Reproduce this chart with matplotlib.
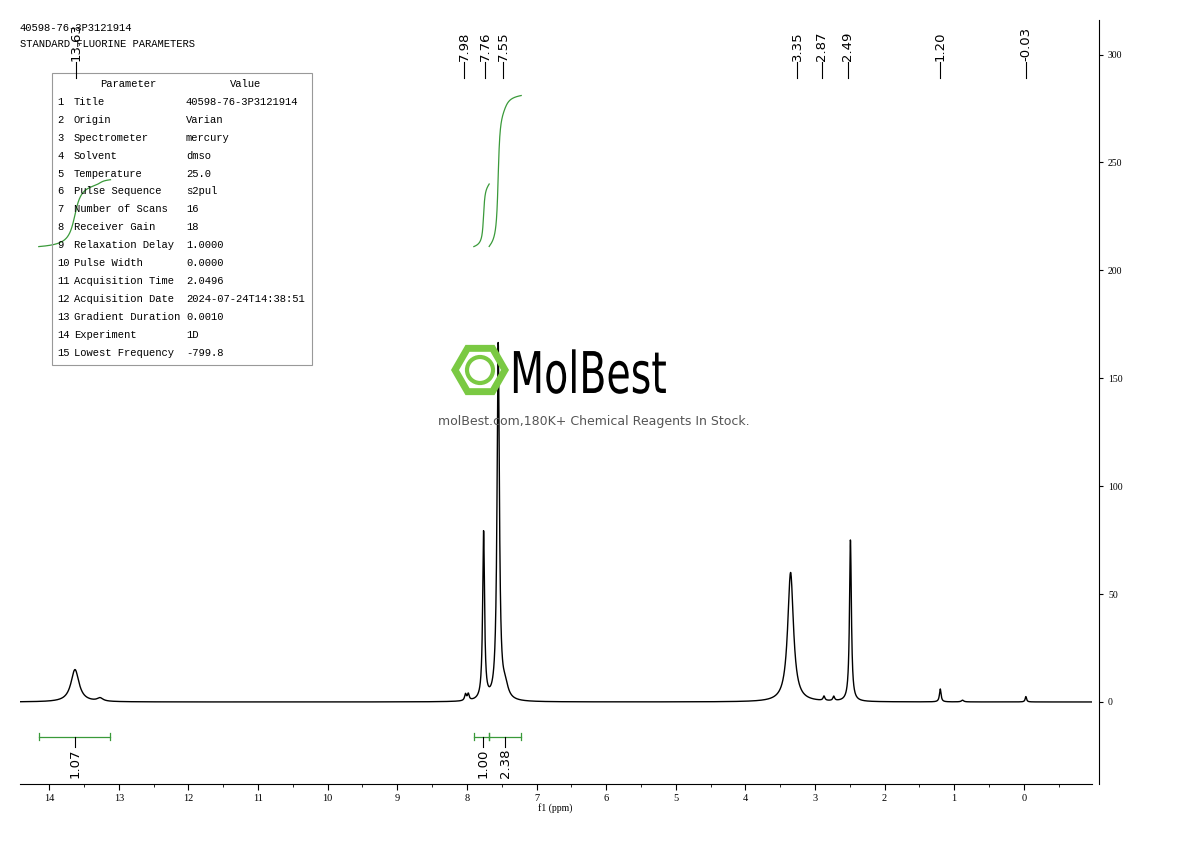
import numpy as np
import matplotlib.pyplot as plt
from matplotlib.patches import Rectangle, RegularPolygon, Circle, PathPatch
from matplotlib.textpath import TextPath
from matplotlib.font_manager import FontProperties
from matplotlib.transforms import Affine2D

W, H = 1190, 841

# peaks: position (ppm), height, half-width (ppm)
peak_pos = [13.63, 13.27, 8.02, 7.98, 7.76, 7.55, 7.45, 3.35, 2.87, 2.73, 2.49, 1.20, 0.88, -0.03]
peak_h = [15.0, 1.5, 3.0, 3.0, 78.0, 165.0, 6.0, 60.0, 2.0, 2.0, 75.0, 6.0, 0.8, 2.5]
peak_w = [0.07, 0.05, 0.015, 0.015, 0.016, 0.02, 0.05, 0.05, 0.015, 0.015, 0.016, 0.014, 0.02, 0.012]

shift_labels = ["13.63", "7.98", "7.76", "7.55", "3.35", "2.87", "2.49", "1.20", "-0.03"]
shift_px = [76, 464, 485, 503, 797, 822, 848, 940, 1026]

integ_ranges = [(14.15, 13.12), (7.90, 7.68), (7.68, 7.22)]
integ_values = ["1.07", "1.00", "2.38"]
integ_centres = [13.63, 7.77, 7.45]

params = [
    ("Title", "40598-76-3P3121914"), ("Origin", "Varian"), ("Spectrometer", "mercury"),
    ("Solvent", "dmso"), ("Temperature", "25.0"), ("Pulse Sequence", "s2pul"),
    ("Number of Scans", "16"), ("Receiver Gain", "18"), ("Relaxation Delay", "1.0000"),
    ("Pulse Width", "0.0000"), ("Acquisition Time", "2.0496"),
    ("Acquisition Date", "2024-07-24T14:38:51"), ("Gradient Duration", "0.0010"),
    ("Experiment", "1D"), ("Lowest Frequency", "-799.8"),
]

MONO = "Liberation Mono"

x = np.linspace(14.42, -0.98, 6000)
y = np.zeros_like(x)
for p, h, w in zip(peak_pos, peak_h, peak_w):
    y += h / (1 + ((x - p) / w) ** 2)

fig = plt.figure(figsize=(W / 100, H / 100), dpi=100)
ax = fig.add_axes([20 / W, 1 - 784 / H, 1072 / W, 764 / H])
ax.plot(x, y, color="black", lw=1.0)
ax.set_xlim(14.42, -0.98)
ax.set_ylim(-38, 316)

# integral curves
for (a, b), base, top in zip(integ_ranges, [211, 211, 211], [242, 240, 281]):
    xi = np.linspace(a, b, 300)
    yi = np.interp(xi[::-1], x[::-1], y[::-1])[::-1]
    c = np.cumsum(yi)
    c = base + (top - base) * c / c[-1]
    ax.plot(xi, c, color="#3a9a3a", lw=0.9)
for (a, b), v, cx in zip(integ_ranges, integ_values, integ_centres):
    ax.plot([a, b], [-16, -16], color="#3a9a3a", lw=0.9)
    for e in (a, b):
        ax.plot([e, e], [-14.5, -17.5], color="#3a9a3a", lw=0.9)
    ax.plot([cx, cx], [-16, -21], color="black", lw=0.8)
    ax.text(cx, -21.5, v, rotation=90, ha="center", va="top", fontsize=9.5)

for s in ("left", "top"):
    ax.spines[s].set_visible(False)
ax.spines["right"].set_position(("outward", 5))
ax.spines["right"].set_bounds(-38, 316)
ax.yaxis.tick_right()
ax.set_yticks(range(0, 301, 50))
ax.tick_params(axis="y", labelsize=7, length=3)
ax.set_xticks(range(0, 15))
ax.set_xticks(np.arange(-0.5, 14.5, 0.5), minor=True)
ax.tick_params(axis="x", labelsize=7.5, length=4)
ax.tick_params(axis="x", which="minor", length=2)
for lab in ax.get_xticklabels() + ax.get_yticklabels():
    lab.set_family("Liberation Serif")
fig.text(555 / W, 1 - 811 / H, "f1 (ppm)", ha="center", fontsize=7, family="Liberation Serif")

# chemical shift labels
for lab, px in zip(shift_labels, shift_px):
    fig.add_artist(plt.Line2D([px / W, px / W], [1 - 78 / H, 1 - 62 / H], color="black", lw=0.8))
    fig.text(px / W, 1 - 61 / H, lab, rotation=90, ha="center", va="bottom", fontsize=9.5)

# header and parameter table
fig.text(20 / W, 1 - 31 / H, "40598-76-3P3121914", fontsize=7.6, family=MONO, va="baseline")
fig.text(20 / W, 1 - 47 / H, "STANDARD FLUORINE PARAMETERS", fontsize=7.6, family=MONO, va="baseline")
fig.add_artist(Rectangle((52 / W, 1 - 365 / H), 260 / W, 292 / H, transform=fig.transFigure,
                         fill=False, ec="#999999", lw=0.8))
fig.text(128 / W, 1 - 84 / H, "Parameter", ha="center", va="center", fontsize=7.6, family=MONO)
fig.text(246 / W, 1 - 84 / H, "Value", ha="center", va="center", fontsize=7.6, family=MONO)
for i, (k, v) in enumerate(params):
    yy = 1 - (102 + i * 17.9) / H
    fig.text(57 / W, yy, f"{i + 1}", va="center", fontsize=7.6, family=MONO)
    fig.text(74 / W, yy, k, va="center", fontsize=7.6, family=MONO)
    fig.text(186 / W, yy, v, va="center", fontsize=7.6, family=MONO)

# watermark
wa = fig.add_axes([0, 0, 1, 1], facecolor="none")
wa.set_xlim(0, W)
wa.set_ylim(H, 0)
wa.axis("off")
wa.add_patch(RegularPolygon((480, 370), 6, radius=25, orientation=np.pi / 6,
                            fill=False, ec="#7ac943", lw=5))
wa.add_patch(Circle((480, 370), 13, fill=False, ec="#7ac943", lw=3))
tp = TextPath((0, 0), "MolBest", size=1, prop=FontProperties(family="DejaVu Sans"))
bb = tp.get_extents()
tr = Affine2D().scale(152 / bb.width, -42 / 0.73).translate(510, 393)
wa.add_patch(PathPatch(tr.transform_path(tp), fc="black", ec="none"))
wa.text(594, 421, "molBest.com,180K+ Chemical Reagents In Stock.", fontsize=9, ha="center",
        va="center", color="#555555")

fig.savefig("out.png", dpi=100)
